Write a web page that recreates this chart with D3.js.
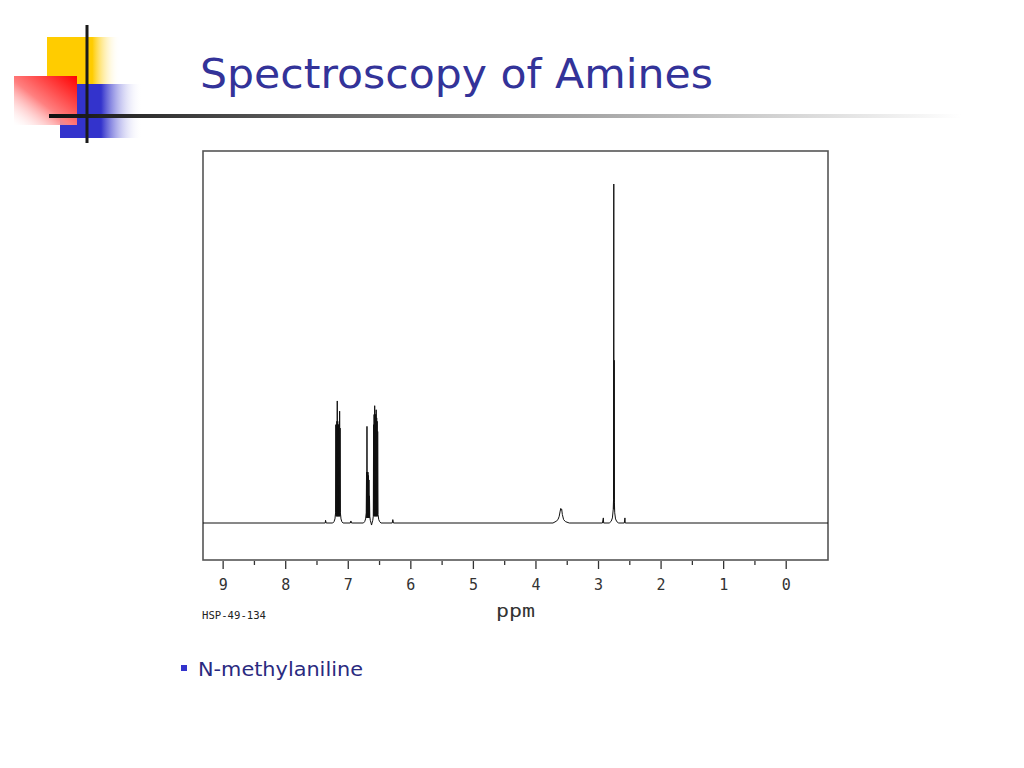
<!DOCTYPE html>
<html>
<head>
<meta charset="utf-8">
<script src="https://cdn.jsdelivr.net/npm/d3@7"></script>
<style>
  html, body { margin: 0; padding: 0; background: #fff; }
  svg { display: block; }
</style>
</head>
<body>
<svg id="chart" width="1024" height="768"></svg>
<script>
// ---------------- DATA ----------------
const titleText = "Spectroscopy of Amines";
const bulletText = "N-methylaniline";
const sampleId = "HSP-49-134";
const axisLabel = "ppm";
const majorTicks = [9, 8, 7, 6, 5, 4, 3, 2, 1, 0];
const minorTicks = [8.5, 7.5, 6.5, 5.5, 4.5, 3.5, 2.5, 1.5, 0.5];
const ppmDomain = [9.314, -0.676];

// spectrum pieces: [ppm, relative intensity]
const startBaseline = [[9.314, 0], [7.36, 0]];
const smallTickA = [[7.355, 0.8], [7.345, 0]];
const multiplet715 = [
  [7.24, 0], [7.22, 0.4], [7.205, 1.2], [7.195, 3], [7.19, 29], [7.186, 2], [7.182, 29], [7.178, 2],
  [7.174, 30], [7.171, 2], [7.168, 36], [7.164, 2], [7.160, 29], [7.156, 2], [7.152, 29], [7.148, 2],
  [7.144, 29], [7.140, 2], [7.136, 30], [7.133, 2], [7.130, 33], [7.126, 2], [7.123, 28], [7.118, 3],
  [7.108, 1.2], [7.095, 0.4], [7.075, 0]
];
const smallTickB = [[6.96, 0], [6.95, 0.6], [6.94, 0]];
const multiplet668 = [
  [6.75, 0], [6.73, 0.4], [6.715, 1.2], [6.705, 3], [6.70, 15], [6.697, 1.5], [6.693, 28.5], [6.689, 1.5],
  [6.685, 15], [6.681, 1.5], [6.677, 15], [6.673, 1.5], [6.669, 14], [6.665, 1.5], [6.661, 12.7],
  [6.657, 1.5], [6.653, 8], [6.648, 2], [6.64, 0.8], [6.628, 0], [6.62, -0.6], [6.612, 0]
];
const multiplet655 = [
  [6.60, 0.8], [6.592, 2], [6.587, 29], [6.583, 2], [6.579, 32], [6.575, 2], [6.570, 34.6], [6.566, 2],
  [6.562, 32], [6.558, 2], [6.554, 32], [6.550, 2], [6.546, 33.4], [6.542, 2], [6.538, 31], [6.534, 2],
  [6.530, 30], [6.526, 2], [6.522, 27], [6.516, 2.5], [6.505, 1], [6.49, 0.4], [6.47, 0]
];
const smallTickC = [[6.29, 0], [6.28, 1], [6.27, 0]];
const broadNH = [
  [3.72, 0], [3.67, 0.5], [3.64, 1], [3.62, 2], [3.605, 3.5], [3.595, 4.3], [3.588, 3.8], [3.58, 4],
  [3.57, 2.5], [3.55, 1], [3.52, 0.4], [3.46, 0]
];
const satelliteA = [[2.93, 0], [2.915, 1.5], [2.91, 0]];
const singletNCH3 = [
  [2.82, 0], [2.79, 0.5], [2.77, 1.5], [2.757, 4], [2.752, 7], [2.748, 100], [2.745, 4], [2.742, 48],
  [2.738, 6], [2.733, 3], [2.72, 1.2], [2.70, 0.4], [2.67, 0]
];
const satelliteB = [[2.58, 0], [2.57, 1.5], [2.565, 0]];
const endBaseline = [[-0.676, 0]];

// ---------------- DRAW ----------------
const svg = d3.select("#chart");
const defs = svg.append("defs");

function lin(id, x1, y1, x2, y2, stops) {
  const g = defs.append("linearGradient").attr("id", id)
    .attr("x1", x1).attr("y1", y1).attr("x2", x2).attr("y2", y2);
  stops.forEach(s => g.append("stop").attr("offset", s[0]).attr("stop-color", s[1]).attr("stop-opacity", s[2] === undefined ? 1 : s[2]));
}
lin("gYellow", "0", "0", "1", "0", [[0, "#ffcc00"], [0.62, "#ffcc00"], [1, "#ffffff", 0]]);
lin("gBlue", "0", "0", "1", "0", [[0, "#3333cc"], [0.5, "#3333cc"], [1, "#ffffff", 0]]);
lin("gRed", "1", "0", "0", "1", [[0, "#ff0000"], [0.55, "#ff8080"], [1, "#ffffff", 0.2]]);
lin("gLine", "0", "0", "1", "0", [[0, "#111111"], [0.3, "#666666"], [1, "#ffffff"]]);

// decoration
const deco = svg.append("g");
deco.append("rect").attr("x", 47).attr("y", 37).attr("width", 73).attr("height", 47).attr("fill", "url(#gYellow)");
deco.append("rect").attr("x", 60).attr("y", 84).attr("width", 82).attr("height", 54).attr("fill", "url(#gBlue)");
deco.append("rect").attr("x", 14).attr("y", 76).attr("width", 63).attr("height", 49).attr("fill", "url(#gRed)");
deco.append("rect").attr("x", 49).attr("y", 114).attr("width", 912).attr("height", 4).attr("fill", "url(#gLine)");
deco.append("rect").attr("x", 85.5).attr("y", 25).attr("width", 3).attr("height", 118).attr("fill", "#1a1a1a");

// title
svg.append("text")
  .attr("x", 200).attr("y", 88)
  .attr("font-family", "'DejaVu Sans', sans-serif")
  .attr("font-size", 41)
  .attr("fill", "#333399")
  .attr("textLength", 513).attr("lengthAdjust", "spacingAndGlyphs")
  .text(titleText);

// scales
const x = d3.scaleLinear().domain(ppmDomain).range([203, 828]);
const y = d3.scaleLinear().domain([0, 100]).range([523, 184]);

// frame
svg.append("rect").attr("x", 203).attr("y", 151).attr("width", 625).attr("height", 409)
  .attr("fill", "none").attr("stroke", "#555").attr("stroke-width", 1.6);

defs.append("clipPath").attr("id", "plotClip").append("rect")
  .attr("x", 203).attr("y", 151).attr("width", 625).attr("height", 409);

// spectrum
const spectrum = [].concat(startBaseline, smallTickA, multiplet715, smallTickB, multiplet668,
  multiplet655, smallTickC, broadNH, satelliteA, singletNCH3, satelliteB, endBaseline);
const line = d3.line().x(d => x(d[0])).y(d => y(d[1]));
svg.append("path").datum(spectrum)
  .attr("clip-path", "url(#plotClip)")
  .attr("d", line)
  .attr("fill", "none").attr("stroke", "#111").attr("stroke-width", 1);

// axes
const axisMajor = d3.axisBottom(x).tickValues(majorTicks).tickSize(8).tickPadding(0).tickFormat(d3.format("d"));
const axisMinor = d3.axisBottom(x).tickValues(minorTicks).tickSize(4).tickFormat("");
const gMaj = svg.append("g").attr("transform", "translate(0,561)").call(axisMajor);
const gMin = svg.append("g").attr("transform", "translate(0,561)").call(axisMinor);
[gMaj, gMin].forEach(g => {
  g.select(".domain").remove();
  g.selectAll(".tick line").attr("stroke", "#333").attr("stroke-width", 1.3);
});
gMaj.selectAll(".tick text")
  .attr("y", 18).attr("dy", "0.71em")
  .attr("font-family", "'DejaVu Sans Mono', monospace")
  .attr("font-size", 15).attr("fill", "#333");

// labels
svg.append("text").attr("x", 496).attr("y", 617)
  .attr("font-family", "'DejaVu Sans Mono', monospace").attr("font-size", 17)
  .attr("fill", "#333").attr("textLength", 39).attr("lengthAdjust", "spacingAndGlyphs")
  .text(axisLabel);
svg.append("text").attr("x", 202).attr("y", 619)
  .attr("font-family", "'DejaVu Sans Mono', monospace").attr("font-size", 10)
  .attr("fill", "#222").attr("textLength", 64).attr("lengthAdjust", "spacingAndGlyphs")
  .text(sampleId);

// bullet
svg.append("rect").attr("x", 181).attr("y", 665).attr("width", 6).attr("height", 6).attr("fill", "#3333cc");
svg.append("text").attr("x", 198).attr("y", 676)
  .attr("font-family", "'DejaVu Sans', sans-serif").attr("font-size", 20)
  .attr("fill", "#2a2a80").attr("textLength", 165).attr("lengthAdjust", "spacingAndGlyphs")
  .text(bulletText);
</script>
</body>
</html>
